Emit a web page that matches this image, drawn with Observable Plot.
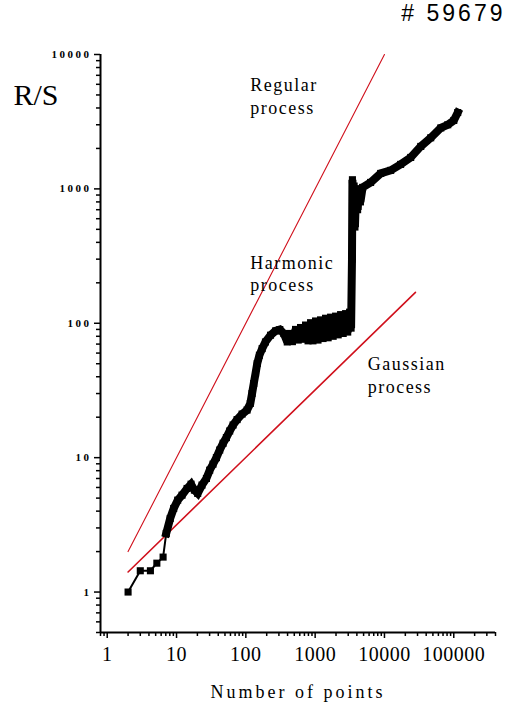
<!DOCTYPE html>
<html>
<head>
<meta charset="utf-8">
<script src="https://cdn.jsdelivr.net/npm/d3@7"></script>
<script src="https://cdn.jsdelivr.net/npm/@observablehq/plot@0.6"></script>
<style>
  body { margin: 0; background: #fff; }
  #chart svg { display: block; background: #fff; }
</style>
</head>
<body>
<div id="chart"></div>
<script>
// Rescaled range R/S against the number of points, log–log.
const pointsN = [
  2, 3, 4.2, 5.2, 6.4, 7.1, 8.1, 9.1, 10.4, 12, 14.2, 16.2, 18.1, 20.2, 23.3, 27,
  30.1, 33.6, 37.6, 42, 47, 52.4, 58.5, 65.5, 74.8, 88.3, 104, 116, 123, 130, 138,
  146, 157, 172, 192, 227, 268, 309, 353, 396,
  430, 470, 521, 570, 615, 670, 727, 790, 859, 930, 1014, 1100, 1197, 1300, 1413,
  1540, 1670, 1820, 1972, 2150, 2329, 2540, 2750, 2950, 3140, 3300,
  3400, 3450, 3550, 3650, 3750, 3900, 4100, 4300, 4500,
  4840, 6310, 8810, 12300, 17100, 23900, 33400, 46500, 64900, 81900, 100000, 114000
];
const rsValues = [
  1.0, 1.44, 1.44, 1.64, 1.82, 2.73, 3.53, 4.19, 4.83, 5.26, 5.9, 6.35, 5.73, 5.42, 6.25, 7.0,
  8.07, 8.95, 10.0, 11.4, 12.8, 14.1, 15.8, 17.5, 19.2, 21.1, 22.6, 25.3, 30, 35.6, 42.3,
  50.2, 57.8, 64.8, 72.6, 81.5, 87.7, 89.8, 83.8, 72.6,
  84, 73, 90, 75, 93, 76, 97, 74, 101, 74, 104, 75, 106, 77, 109,
  78, 111, 80, 113, 82, 116, 84, 118, 86, 121, 92,
  300, 1170, 560, 1050, 520, 1000, 700, 1000, 800,
  1026, 1117, 1303, 1373, 1521, 1714, 2070, 2400, 2840, 3000, 3230, 3700
];

// Reference processes: regular (slope 1) and Gaussian (slope 1/2)
const regularN = [2, 10000];
const regularRS = [2, 10000];
const gaussianN = [2, 28000];
const gaussianRS = [1.41, 170];

const processLabels = ["Regular\nprocess", "Harmonic\nprocess", "Gaussian\nprocess"];
const xTickValues = [1, 10, 100, 1000, 10000, 100000];
const yTickValues = [1, 10, 100, 1000, 10000];
const xDomain = [0.8, 400000];
const yDomain = [0.5, 10000];

const series = pointsN.map((n, i) => ({n, rs: rsValues[i]}));
const regular = regularN.map((n, i) => ({n, rs: regularRS[i]}));
const gaussian = gaussianN.map((n, i) => ({n, rs: gaussianRS[i]}));

function minorTicks([lo, hi]) {
  const out = [];
  for (let e = -1; e <= 5; e++) {
    for (let k = 2; k <= 9; k++) {
      const v = +(k * Math.pow(10, e)).toPrecision(6);
      if (v >= lo && v <= hi) out.push(v);
    }
  }
  return out;
}

const serif = "'Liberation Serif', 'DejaVu Serif', serif";
const red = "#d0101c";

const chart = Plot.plot({
  width: 506,
  height: 709,
  marginLeft: 100,
  marginRight: 11,
  marginTop: 54,
  marginBottom: 77,
  x: {type: "log", domain: xDomain},
  y: {type: "log", domain: yDomain},
  style: {background: "#fff", color: "#000"},
  marks: [
    // minor and major ticks
    Plot.axisX({ticks: minorTicks(xDomain), tickSize: 4, tickFormat: () => "", label: null, strokeWidth: 1.5}),
    Plot.axisX({ticks: xTickValues, tickSize: 6, tickPadding: 8, tickFormat: d => String(d), label: null,
      fontSize: 20, fontFamily: serif, strokeWidth: 1.5}),
    Plot.axisY({ticks: minorTicks(yDomain), tickSize: 4, tickFormat: () => "", label: null, strokeWidth: 1.5}),
    Plot.axisY({ticks: yTickValues, tickSize: 6, tickPadding: 3, tickFormat: d => String(d), label: null,
      fontSize: 11, fontWeight: "bold", fontFamily: serif, strokeWidth: 1.5}),
    // axis lines
    Plot.ruleX([xDomain[0]], {strokeWidth: 2}),
    Plot.ruleY([yDomain[0]], {strokeWidth: 2}),
    // reference processes
    Plot.line(regular, {x: "n", y: "rs", stroke: red, strokeWidth: 1.1}),
    Plot.line(gaussian, {x: "n", y: "rs", stroke: red, strokeWidth: 1.6}),
    // measured R/S
    Plot.line(series, {x: "n", y: "rs", stroke: "#000", strokeWidth: 2}),
    Plot.line(series, {filter: d => d.n >= 7, x: "n", y: "rs", stroke: "#000", strokeWidth: 8,
      strokeLinejoin: "miter", strokeLinecap: "square", strokeMiterlimit: 2}),
    Plot.dot(series, {x: "n", y: "rs", symbol: "square", r: 4, fill: "#000", stroke: null}),
    // annotations
    Plot.text(processLabels, {x: [116, 116, 5720], y: [7100, 337, 59], text: d => d,
      textAnchor: "start", lineAnchor: "top", lineHeight: 1.27, fontSize: 18, fontFamily: serif}),
    Plot.text(["R/S"], {text: d => d, frameAnchor: "top-left", dx: -87, dy: 50,
      textAnchor: "start", lineAnchor: "bottom", fontSize: 30, fontFamily: serif}),
    Plot.text(["# 59679"], {text: d => d, frameAnchor: "top-right", dx: 10, dy: -34,
      textAnchor: "end", lineAnchor: "bottom", fontSize: 23,
      fontFamily: "'Liberation Sans', Arial, sans-serif"}),
    Plot.text(["Number of points"], {text: d => d, frameAnchor: "bottom", dy: 65,
      textAnchor: "middle", lineAnchor: "bottom", fontSize: 18, fontFamily: serif})
  ]
});

// letter spacing for the wide-set typography
const svg = d3.select(chart);
const spacing = (test, value) =>
  svg.selectAll("text").filter(function () { return test(this.textContent); }).style("letter-spacing", value);
svg.selectAll("g[aria-label='x-axis tick label'] text").style("letter-spacing", "0.5px");
svg.selectAll("g[aria-label='y-axis tick label'] text").style("letter-spacing", "2.5px");
spacing(t => t.includes("process"), "1.5px");
spacing(t => t === "# 59679", "3px");
spacing(t => t === "Number of points", "3px");

document.getElementById("chart").append(chart);
</script>
</body>
</html>
